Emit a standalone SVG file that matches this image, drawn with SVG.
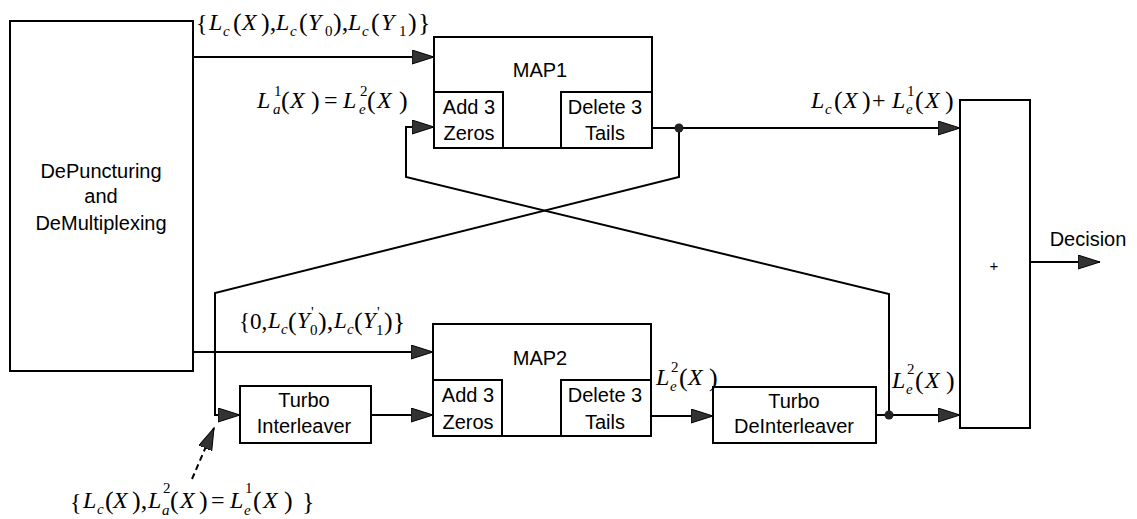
<svg xmlns="http://www.w3.org/2000/svg" width="1137" height="519" viewBox="0 0 1137 519">
<style>
.box{fill:#fff;stroke:#000;stroke-width:2}
.w{fill:none;stroke:#000;stroke-width:2}
.d{fill:none;stroke:#000;stroke-width:2;stroke-dasharray:6,4}
.t{font-family:"Liberation Sans",Arial,sans-serif;font-size:20px;text-anchor:middle;fill:#000}
.m{font-family:"Liberation Serif","Times New Roman",serif;font-size:24px;fill:#000}
.i{font-style:italic}
.s{font-size:15px}
.p{font-size:26px}
</style>
<defs>
<marker id="ah" markerUnits="userSpaceOnUse" markerWidth="24" markerHeight="16" refX="22" refY="7" orient="auto">
<path d="M0,0 L22,7 L0,14 z" fill="#333" stroke="#000" stroke-width="1"/>
</marker>
</defs>
<rect width="1137" height="519" fill="#fff"/>

<g id="connectors">
<path class="w" d="M193,57 H434" marker-end="url(#ah)"/>
<path class="w" d="M652,128 H960" marker-end="url(#ah)"/>
<path class="w" d="M679,128 V177 L215,293 V415 H240" marker-end="url(#ah)"/>
<path class="w" d="M889,415 V294 L406,177 V127 H434" marker-end="url(#ah)"/>
<path class="w" d="M193,352 H433" marker-end="url(#ah)"/>
<path class="w" d="M371,415 H433" marker-end="url(#ah)"/>
<path class="w" d="M651,416 H713" marker-end="url(#ah)"/>
<path class="w" d="M876,415 H960" marker-end="url(#ah)"/>
<path class="w" d="M1030,262 H1100" marker-end="url(#ah)"/>
<path class="d" d="M192,479 L214,428" marker-end="url(#ah)"/>
<circle cx="679" cy="128" r="4.5" fill="#222"/>
<circle cx="889" cy="415" r="4.5" fill="#222"/>
</g>

<g id="depuncturing">
<rect class="box" x="10" y="21" width="183" height="350"/>
<text class="t" x="101" y="178">DePuncturing</text>
<text class="t" x="101" y="203">and</text>
<text class="t" x="101" y="230">DeMultiplexing</text>
</g>

<g id="map1">
<rect class="box" x="434" y="37" width="218" height="111"/>
<text class="t" x="540" y="77">MAP1</text>
<rect class="box" x="434" y="92" width="69" height="56"/>
<text class="t" x="469" y="114">Add 3</text>
<text class="t" x="469" y="140">Zeros</text>
<rect class="box" x="561" y="92" width="91" height="56"/>
<text class="t" x="605" y="114">Delete 3</text>
<text class="t" x="605" y="140">Tails</text>
</g>

<g id="map2">
<rect class="box" x="433" y="324" width="218" height="112"/>
<text class="t" x="540" y="365">MAP2</text>
<rect class="box" x="433" y="380" width="69" height="56"/>
<text class="t" x="468" y="402">Add 3</text>
<text class="t" x="468" y="429">Zeros</text>
<rect class="box" x="561" y="380" width="90" height="56"/>
<text class="t" x="605" y="402">Delete 3</text>
<text class="t" x="605" y="429">Tails</text>
</g>

<g id="interleaver">
<rect class="box" x="240" y="386" width="131" height="57"/>
<text class="t" x="304" y="407">Turbo</text>
<text class="t" x="304" y="433">Interleaver</text>
</g>

<g id="deinterleaver">
<rect class="box" x="713" y="387" width="163" height="56"/>
<text class="t" x="794" y="408">Turbo</text>
<text class="t" x="794" y="433">DeInterleaver</text>
</g>

<g id="adder">
<rect class="box" x="960" y="100" width="70" height="328"/>
<text class="t" x="994" y="271" style="font-size:15px">+</text>
</g>

<g id="decision-label">
<text class="t" x="1088" y="246">Decision</text>
</g>

<g id="labels">
<text class="m"><tspan x="196" y="31">{</tspan><tspan class="i" x="209" y="30">L</tspan><tspan class="i s" x="223" y="36">c</tspan><tspan class="p" x="233" y="31">(</tspan><tspan class="i" x="242" y="30">X</tspan><tspan class="p" x="261" y="31">),</tspan><tspan class="i" x="276" y="30">L</tspan><tspan class="i s" x="290" y="36">c</tspan><tspan class="p" x="299" y="31">(</tspan><tspan class="i" x="308" y="30">Y</tspan><tspan class="s" x="325" y="36">0</tspan><tspan class="p" x="333" y="31">),</tspan><tspan class="i" x="348" y="30">L</tspan><tspan class="i s" x="362" y="36">c</tspan><tspan class="p" x="371" y="31">(</tspan><tspan class="i" x="381" y="30">Y</tspan><tspan class="s" x="399" y="36">1</tspan><tspan class="p" x="408" y="31">)</tspan><tspan class="p" x="418" y="31">}</tspan></text>

<text class="m"><tspan class="i" x="257" y="108">L</tspan><tspan class="s" x="274" y="96">1</tspan><tspan class="i s" x="273" y="114">a</tspan><tspan class="p" x="281" y="109">(</tspan><tspan class="i" x="290" y="108">X</tspan><tspan class="p" x="311" y="109">)</tspan><tspan x="324" y="108">=</tspan><tspan class="i" x="343" y="108">L</tspan><tspan class="s" x="360" y="96">2</tspan><tspan class="i s" x="359" y="114">e</tspan><tspan class="p" x="367" y="109">(</tspan><tspan class="i" x="377" y="108">X</tspan><tspan class="p" x="399" y="109">)</tspan></text>

<text class="m"><tspan class="i" x="811" y="108">L</tspan><tspan class="i s" x="825" y="114">c</tspan><tspan class="p" x="834" y="109">(</tspan><tspan class="i" x="843" y="108">X</tspan><tspan class="p" x="862" y="109">)</tspan><tspan x="872" y="108">+</tspan><tspan class="i" x="892" y="108">L</tspan><tspan class="s" x="907" y="96">1</tspan><tspan class="i s" x="906" y="114">e</tspan><tspan class="p" x="915" y="109">(</tspan><tspan class="i" x="925" y="108">X</tspan><tspan class="p" x="945" y="109">)</tspan></text>

<text class="m" style="font-size:23px"><tspan x="239" y="329">{0,</tspan><tspan class="i" x="268" y="328">L</tspan><tspan class="i s" x="281" y="334">c</tspan><tspan class="p" x="288" y="330">(</tspan><tspan class="i" x="297" y="328">Y</tspan><tspan class="s" x="311" y="317">'</tspan><tspan class="s" x="310" y="335">0</tspan><tspan class="p" x="318" y="330">),</tspan><tspan class="i" x="334" y="328">L</tspan><tspan class="i s" x="347" y="334">c</tspan><tspan class="p" x="354" y="330">(</tspan><tspan class="i" x="363" y="328">Y</tspan><tspan class="s" x="377" y="317">'</tspan><tspan class="s" x="376" y="335">1</tspan><tspan class="p" x="384" y="330">)}</tspan></text>

<text class="m"><tspan class="i" x="656" y="385">L</tspan><tspan class="s" x="671" y="372">2</tspan><tspan class="i s" x="670" y="391">e</tspan><tspan class="p" x="679" y="386">(</tspan><tspan class="i" x="688" y="385">X</tspan><tspan class="p" x="709" y="386">)</tspan></text>

<text class="m"><tspan class="i" x="892" y="388">L</tspan><tspan class="s" x="907" y="374">2</tspan><tspan class="i s" x="906" y="394">e</tspan><tspan class="p" x="915" y="389">(</tspan><tspan class="i" x="925" y="388">X</tspan><tspan class="p" x="946" y="389">)</tspan></text>

<text class="m"><tspan x="70" y="510">{</tspan><tspan class="i" x="83" y="508">L</tspan><tspan class="i s" x="97" y="514">c</tspan><tspan class="p" x="105" y="509">(</tspan><tspan class="i" x="113" y="508">X</tspan><tspan class="p" x="132" y="509">),</tspan><tspan class="i" x="148" y="508">L</tspan><tspan class="s" x="163" y="493">2</tspan><tspan class="i s" x="162" y="515">a</tspan><tspan class="p" x="170" y="509">(</tspan><tspan class="i" x="180" y="508">X</tspan><tspan class="p" x="199" y="509">)</tspan><tspan x="211" y="508">=</tspan><tspan class="i" x="230" y="508">L</tspan><tspan class="s" x="245" y="493">1</tspan><tspan class="i s" x="244" y="515">e</tspan><tspan class="p" x="253" y="509">(</tspan><tspan class="i" x="263" y="508">X</tspan><tspan class="p" x="284" y="509">)</tspan><tspan class="p" x="302" y="510">}</tspan></text>
</g>
</svg>
